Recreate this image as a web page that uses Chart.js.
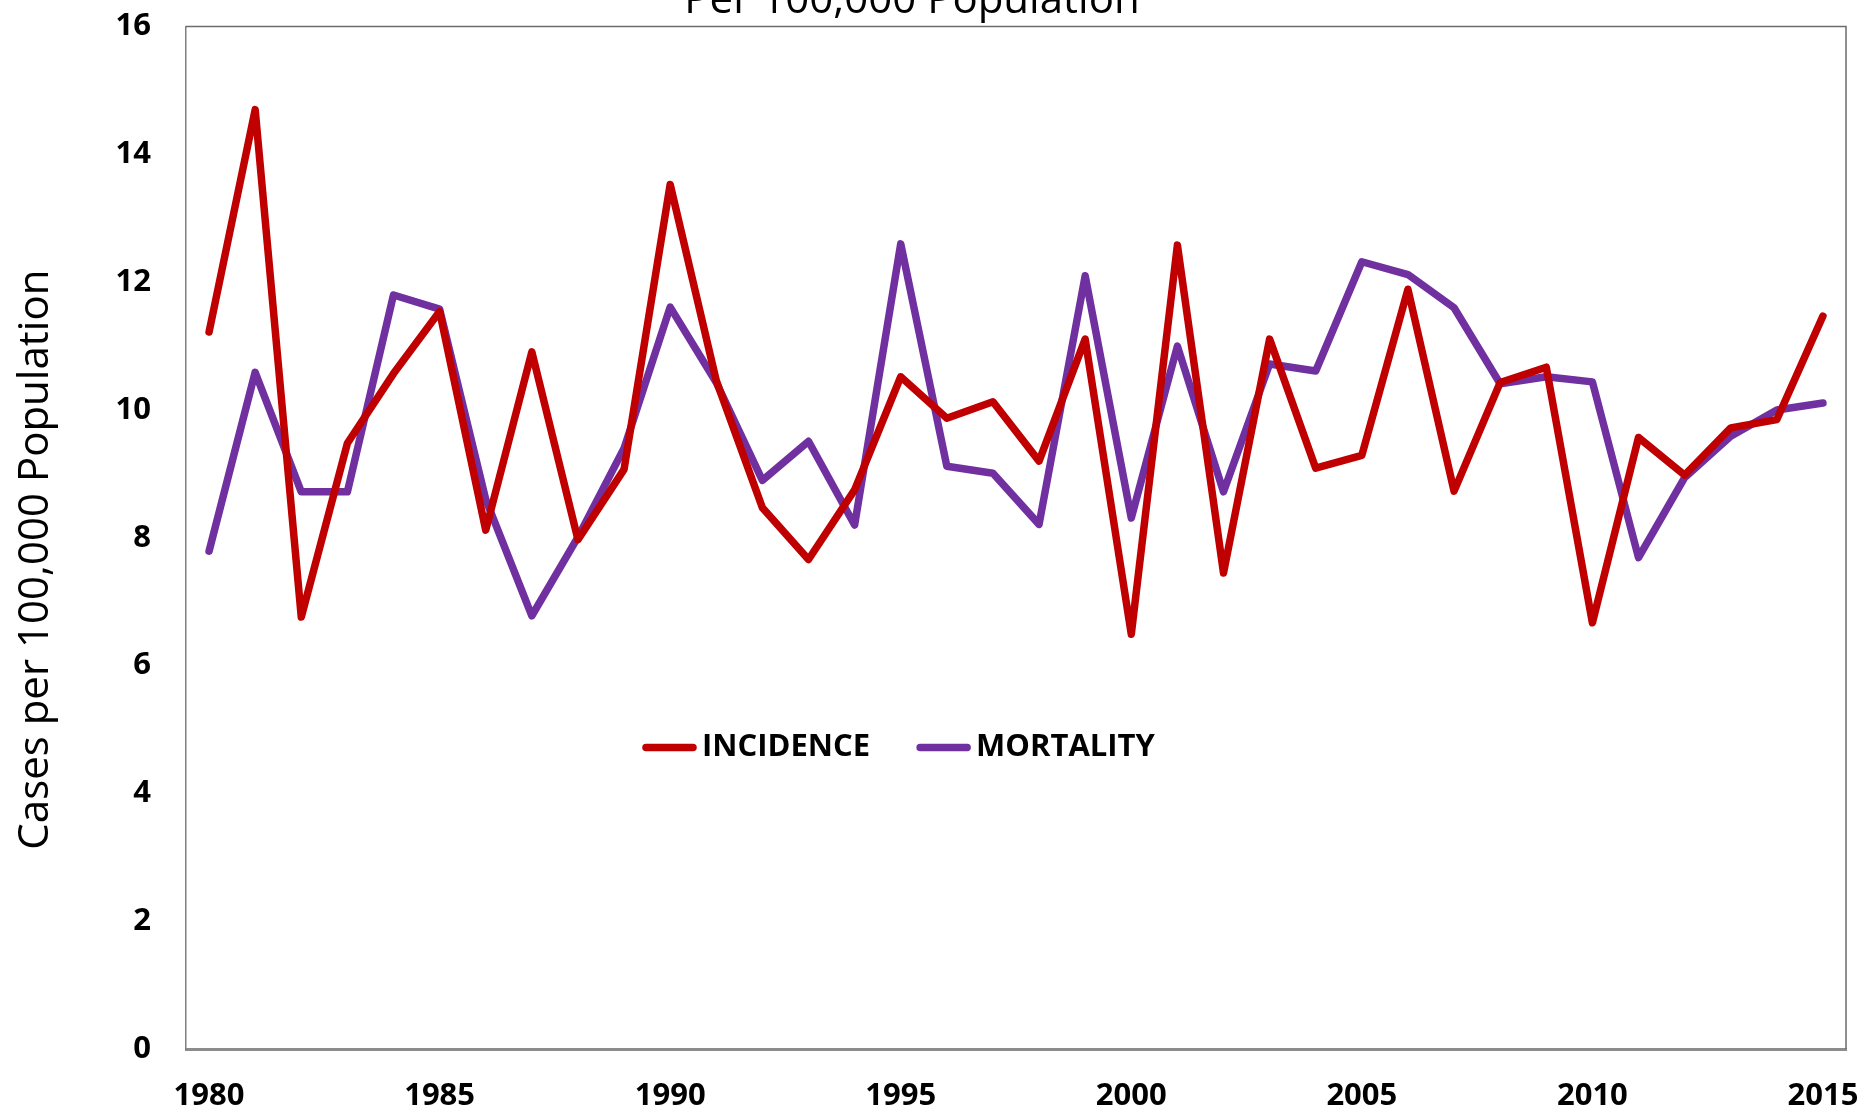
<!DOCTYPE html>
<html>
<head>
<meta charset="utf-8">
<script src="https://cdn.jsdelivr.net/npm/chart.js@4.4.1/dist/chart.umd.min.js"></script>
<style>
  html, body { margin: 0; padding: 0; background: #fff; overflow: hidden; }
  #wrap { position: absolute; left: -22px; top: -27px; }
</style>
</head>
<body>
<div id="wrap"><canvas id="chart" width="1888" height="1140"></canvas></div>
<script>
const years = [];
for (let y = 1980; y <= 2015; y++) years.push(String(y));

const incidence = [11.22, 14.70, 6.76, 9.48, 10.57, 11.54, 8.12, 10.91, 7.97, 9.07,
  13.53, 10.46, 8.47, 7.66, 8.75, 10.52, 9.87, 10.13, 9.20, 11.11,
  6.49, 12.58, 7.45, 11.11, 9.09, 9.29, 11.89, 8.73, 10.43, 10.67,
  6.67, 9.57, 8.98, 9.72, 9.85, 11.47];

const mortality = [7.79, 10.59, 8.72, 8.72, 11.80, 11.58, 8.60, 6.78, 8.01, 9.40,
  11.61, 10.43, 8.90, 9.51, 8.20, 12.60, 9.12, 9.01, 8.21, 12.10,
  8.31, 11.00, 8.72, 10.72, 10.61, 12.32, 12.12, 11.60, 10.41, 10.52,
  10.44, 7.69, 8.94, 9.59, 10.00, 10.11];

const yTicks = [0, 2, 4, 6, 8, 10, 12, 14, 16];

const FONT = "'Open Sans', 'Noto Sans', sans-serif";

// frame round the plot area (top and right edges)
const plotFrame = {
  id: 'plotFrame',
  afterDraw(chart) {
    const { ctx, chartArea: a } = chart;
    ctx.save();
    ctx.strokeStyle = '#6b6b6b';
    ctx.lineWidth = 1.5;
    ctx.beginPath();
    ctx.moveTo(a.left, a.top);
    ctx.lineTo(a.right, a.top);
    ctx.lineTo(a.right, a.bottom);
    ctx.stroke();
    ctx.restore();
  }
};

// legend sits inside the plot, like the Excel original
const innerLegend = {
  id: 'innerLegend',
  afterDraw(chart) {
    const { ctx, chartArea: a } = chart;
    let x = a.left + 457;
    const y = a.top + 721;
    ctx.save();
    ctx.font = "bold 31px " + FONT;
    ctx.textBaseline = 'middle';
    ctx.lineCap = 'round';
    chart.data.datasets.forEach(ds => {
      ctx.strokeStyle = ds.borderColor;
      ctx.lineWidth = 7.5;
      ctx.beginPath();
      ctx.moveTo(x + 3, y);
      ctx.lineTo(x + 50, y);
      ctx.stroke();
      x += 59;
      ctx.fillStyle = '#000';
      ctx.fillText(ds.label, x, y);
      x += ctx.measureText(ds.label).width + 47;
    });
    ctx.restore();
  }
};

new Chart(document.getElementById('chart'), {
  type: 'line',
  data: {
    labels: years,
    datasets: [
      { label: 'INCIDENCE', data: incidence, borderColor: '#C00000', backgroundColor: '#C00000' },
      { label: 'MORTALITY', data: mortality, borderColor: '#7030A0', backgroundColor: '#7030A0' }
    ]
  },
  options: {
    responsive: false,
    devicePixelRatio: 1,
    animation: false,
    layout: { padding: { left: 0, right: 20, top: 0, bottom: 0 } },
    elements: {
      line: { borderWidth: 7.5, tension: 0, borderJoinStyle: 'round', borderCapStyle: 'round' },
      point: { radius: 0, hoverRadius: 0 }
    },
    plugins: {
      legend: { display: false },
      tooltip: { enabled: false },
      title: {
        display: true,
        text: 'Per 100,000 Population',
        color: '#000',
        font: { family: FONT, size: 42, weight: 'normal' },
        padding: { top: 0, bottom: 0 }
      }
    },
    scales: {
      x: {
        type: 'category',
        offset: true,
        grid: { display: false, drawTicks: false },
        border: { display: true, color: '#8c8c8c', width: 3 },
        ticks: {
          autoSkip: false,
          maxRotation: 0,
          padding: 29,
          color: '#000',
          font: { family: FONT, size: 31, weight: 'bold' },
          callback(v, i) { const s = years[i]; return Number(s) % 5 === 0 ? s : ''; }
        },
        afterFit(scale) {
          scale.height = 64;
          scale.paddingLeft = 0;
          scale.paddingRight = 0;
        }
      },
      y: {
        min: 0,
        max: 16,
        afterBuildTicks(scale) { scale.ticks = yTicks.map(v => ({ value: v })); },
        grid: { display: false, drawTicks: false },
        border: { display: true, color: '#7f7f7f', width: 1.5 },
        ticks: {
          padding: 35,
          color: '#000',
          font: { family: FONT, size: 31, weight: 'bold' }
        },
        title: {
          display: true,
          text: 'Cases per 100,000 Population    ',
          color: '#000',
          font: { family: FONT, size: 42, weight: 'normal' },
          padding: { top: 33, bottom: 0 }
        },
        afterFit(scale) { scale.width = 208; }
      }
    }
  },
  plugins: [plotFrame, innerLegend]
});
</script>
</body>
</html>
